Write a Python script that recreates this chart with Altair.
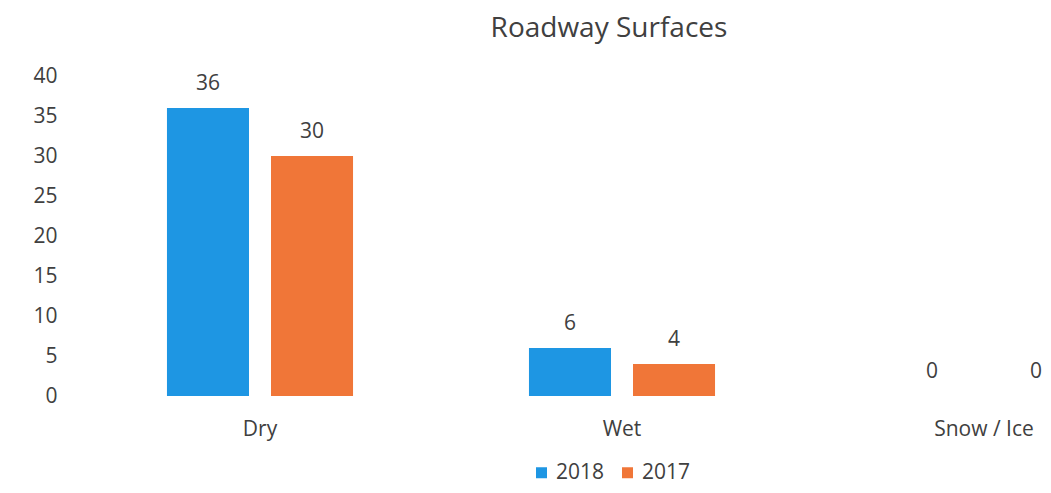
import altair as alt
import pandas as pd

categories = ["Dry", "Wet", "Snow / Ice"]
years = ["2018", "2017"]
values_2018 = [36, 6, 0]
values_2017 = [30, 4, 0]
y_ticks = [0, 5, 10, 15, 20, 25, 30, 35, 40]
colors = ["#1E96E3", "#F07638"]

rows = []
for i, c in enumerate(categories):
    rows.append({"cat": c, "year": "2018", "value": values_2018[i]})
    rows.append({"cat": c, "year": "2017", "value": values_2017[i]})
df = pd.DataFrame(rows)

FONT = "Open Sans"
TXT = "#404040"
FS = 21

x_enc = alt.X(
    "cat:N",
    sort=categories,
    scale=alt.Scale(range=[0, 1086], paddingInner=0.486, paddingOuter=0.243),
    axis=alt.Axis(
        title=None, labelAngle=0, labelFontSize=FS, labelFont=FONT, labelColor=TXT,
        ticks=False, domain=False, labelPadding=22,
    ),
)
xoff = alt.XOffset("year:N", sort=years, scale=alt.Scale(paddingInner=0.2115, paddingOuter=0))
y_enc = alt.Y(
    "value:Q",
    scale=alt.Scale(domain=[0, 40], nice=False),
    axis=alt.Axis(
        title=None, values=y_ticks, grid=False,
        domain=False, ticks=False, labelPadding=22, labelOverlap=False,
        labelFontSize=FS, labelFont=FONT, labelColor=TXT,
    ),
)

base = alt.Chart(df).encode(x=x_enc, xOffset=xoff, y=y_enc)

bars = base.mark_bar().encode(
    color=alt.Color(
        "year:N",
        sort=years,
        scale=alt.Scale(domain=years, range=colors),
        legend=alt.Legend(
            title=None, orient="none", legendX=452, legendY=386, direction="horizontal",
            symbolType="square", symbolSize=121, symbolStrokeWidth=0,
            labelFontSize=FS, labelFont=FONT, labelColor=TXT,
            labelOffset=4, columnPadding=12, padding=0,
        ),
    ),
)

labels = base.mark_text(
    baseline="alphabetic", dy=-18, fontSize=FS, font=FONT, color=TXT
).encode(
    text=alt.Text("value:Q"),
)

chart = (
    alt.layer(bars, labels)
    .properties(
        width=964,
        height=320,
        background="white",
        title=alt.TitleParams(
            "Roadway Surfaces", fontSize=28, font=FONT, color=TXT, fontWeight="normal",
            anchor="middle", frame="group", dx=48, dy=4, offset=4, baseline="alphabetic",
        ),
        autosize=alt.AutoSizeParams(type="none"),
        padding={"left": 71, "top": 68, "right": 0, "bottom": 89},
    )
    .configure_view(strokeWidth=0)
)

chart.save("out.html", embed_options={"renderer": "svg", "actions": False})
